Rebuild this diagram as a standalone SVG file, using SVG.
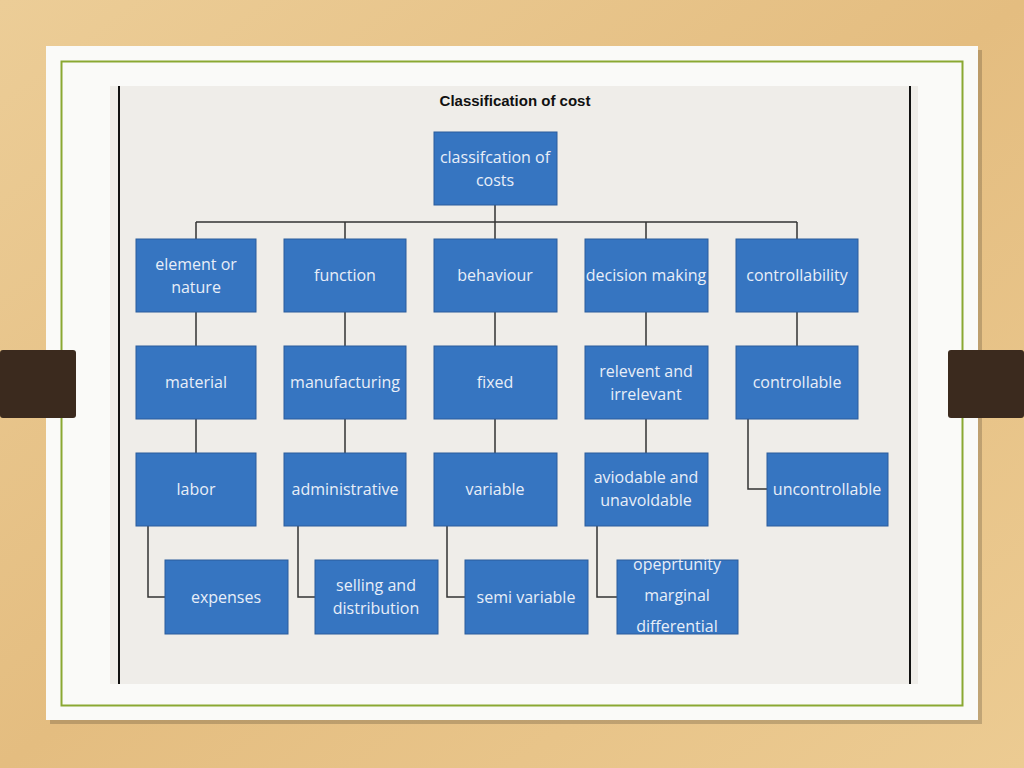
<svg xmlns="http://www.w3.org/2000/svg" width="1024" height="768" viewBox="0 0 1024 768">
<style>
.b{fill:#3675c1;stroke:#2a5d9c;stroke-width:1}
.t{font-family:"Open Sans","Liberation Sans",sans-serif;font-size:16px;fill:#e8eef8;text-anchor:middle}
.c{fill:none;stroke:#333;stroke-width:1.5}
</style>
<defs><linearGradient id="w" x1="0" y1="0" x2="1" y2="1"><stop offset="0" stop-color="#eccd97"/><stop offset="0.5" stop-color="#e4bd80"/><stop offset="1" stop-color="#eccb92"/></linearGradient></defs>
<rect width="1024" height="768" fill="url(#w)"/>
<rect x="50" y="50" width="932" height="674" fill="#000" opacity="0.18"/>
<rect x="46" y="46" width="932" height="674" fill="#fafaf8"/>
<rect x="61.5" y="61.5" width="901" height="644" fill="none" stroke="#8aa832" stroke-width="2"/>
<rect x="110" y="86" width="808" height="598" fill="#efede9"/>
<line x1="119" y1="86" x2="119" y2="684" stroke="#111" stroke-width="2"/>
<line x1="910" y1="86" x2="910" y2="684" stroke="#111" stroke-width="2"/>
<rect x="0" y="350" width="76" height="68" rx="3" fill="#3b2a1e"/>
<rect x="948" y="350" width="76" height="68" rx="3" fill="#3b2a1e"/>
<text x="515" y="106" font-family="'Liberation Sans Narrow','Liberation Sans',sans-serif" font-size="15" font-weight="bold" fill="#111" text-anchor="middle">Classification of cost</text>
<g id="connectors" class="c">
<path d="M495 205V222M196 222H797M196 222V239M345 222V239M495 222V239M646 222V239M797 222V239"/>
<path d="M196 312V346M345 312V346M495 312V346M646 312V346M797 312V346"/>
<path d="M196 419V453M345 419V453M495 419V453M646 419V453M748 419V489H767"/>
<path d="M148 526V597H165M298 526V597H315M447 526V597H465M597 526V597H617"/>
</g>
<g id="root"><rect class="b" x="434" y="132" width="123" height="73"/><text class="t" x="495" y="163">classifcation of</text><text class="t" x="495" y="186">costs</text></g>
<g id="element"><rect class="b" x="136" y="239" width="120" height="73"/><text class="t" x="196" y="270">element or</text><text class="t" x="196" y="293">nature</text></g>
<g id="function"><rect class="b" x="284" y="239" width="122" height="73"/><text class="t" x="345" y="281">function</text></g>
<g id="behaviour"><rect class="b" x="434" y="239" width="123" height="73"/><text class="t" x="495" y="281">behaviour</text></g>
<g id="decision"><rect class="b" x="585" y="239" width="123" height="73"/><text class="t" x="646" y="281">decision making</text></g>
<g id="controllability"><rect class="b" x="736" y="239" width="122" height="73"/><text class="t" x="797" y="281">controllability</text></g>
<g id="material"><rect class="b" x="136" y="346" width="120" height="73"/><text class="t" x="196" y="388">material</text></g>
<g id="manufacturing"><rect class="b" x="284" y="346" width="122" height="73"/><text class="t" x="345" y="388">manufacturing</text></g>
<g id="fixed"><rect class="b" x="434" y="346" width="123" height="73"/><text class="t" x="495" y="388">fixed</text></g>
<g id="relevent"><rect class="b" x="585" y="346" width="123" height="73"/><text class="t" x="646" y="377">relevent and</text><text class="t" x="646" y="400">irrelevant</text></g>
<g id="controllable"><rect class="b" x="736" y="346" width="122" height="73"/><text class="t" x="797" y="388">controllable</text></g>
<g id="labor"><rect class="b" x="136" y="453" width="120" height="73"/><text class="t" x="196" y="495">labor</text></g>
<g id="administrative"><rect class="b" x="284" y="453" width="122" height="73"/><text class="t" x="345" y="495">administrative</text></g>
<g id="variable"><rect class="b" x="434" y="453" width="123" height="73"/><text class="t" x="495" y="495">variable</text></g>
<g id="aviodable"><rect class="b" x="585" y="453" width="123" height="73"/><text class="t" x="646" y="483">aviodable and</text><text class="t" x="646" y="506">unavoldable</text></g>
<g id="uncontrollable"><rect class="b" x="767" y="453" width="121" height="73"/><text class="t" x="827" y="495">uncontrollable</text></g>
<g id="expenses"><rect class="b" x="165" y="560" width="123" height="74"/><text class="t" x="226" y="603">expenses</text></g>
<g id="selling"><rect class="b" x="315" y="560" width="123" height="74"/><text class="t" x="376" y="591">selling and</text><text class="t" x="376" y="614">distribution</text></g>
<g id="semivariable"><rect class="b" x="465" y="560" width="123" height="74"/><text class="t" x="526" y="603">semi variable</text></g>
<g id="opportunity"><rect class="b" x="617" y="560" width="121" height="74"/><text class="t" x="677" y="570">opeprtunity</text><text class="t" x="677" y="601">marginal</text><text class="t" x="677" y="632">differential</text></g>
</svg>
